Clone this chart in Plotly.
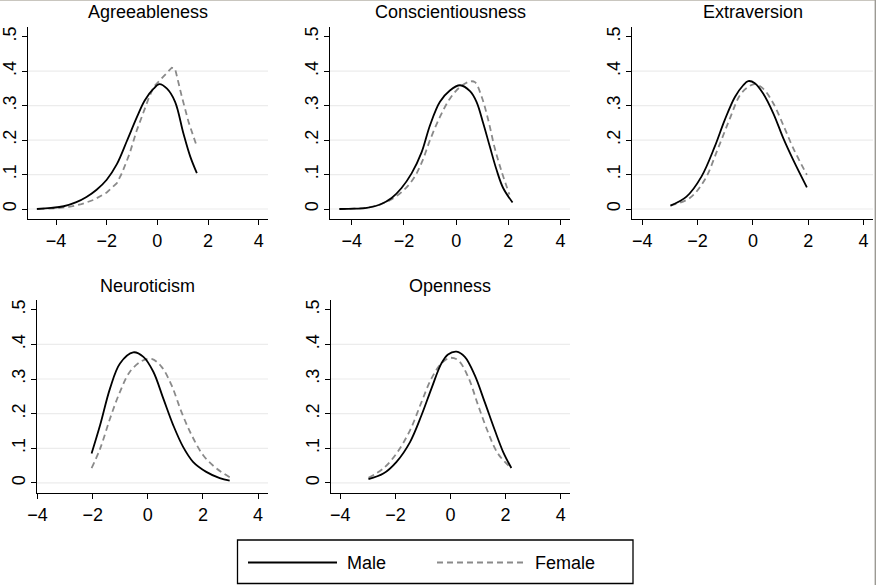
import plotly.graph_objects as go

W, H = 876, 585

# ---------------- data (kernel density estimates) ----------------
panel_titles = ["Agreeableness", "Conscientiousness", "Extraversion", "Neuroticism", "Openness"]
series_names = ["Male", "Female"]

agree_male_x = [-4.76, -4.2, -3.7, -3.2, -2.8, -2.4, -2.0, -1.6, -1.2, -0.8, -0.5, -0.15, 0.08, 0.38, 0.70, 1.03, 1.30, 1.56]
agree_male_y = [0.000, 0.003, 0.008, 0.020, 0.035, 0.056, 0.085, 0.130, 0.198, 0.268, 0.315, 0.349, 0.362, 0.349, 0.311, 0.219, 0.152, 0.104]
agree_female_x = [-4.7, -4.0, -3.5, -3.0, -2.5, -2.0, -1.6, -1.4, -1.1, -0.81, -0.35, -0.15, 0.57, 0.70, 0.97, 1.23, 1.56]
agree_female_y = [0.000, 0.002, 0.006, 0.014, 0.027, 0.048, 0.075, 0.104, 0.160, 0.229, 0.320, 0.354, 0.410, 0.407, 0.325, 0.253, 0.181]

consc_male_x = [-4.47, -3.9, -3.42, -2.91, -2.47, -2.09, -1.70, -1.32, -1.00, -0.62, -0.24, 0.15, 0.53, 0.78, 1.04, 1.29, 1.55, 1.80, 2.16]
consc_male_y = [0.000, 0.001, 0.003, 0.013, 0.032, 0.061, 0.104, 0.165, 0.243, 0.311, 0.344, 0.359, 0.342, 0.311, 0.248, 0.181, 0.113, 0.061, 0.019]
consc_female_x = [-4.47, -3.9, -3.5, -3.0, -2.5, -2.0, -1.6, -1.3, -1.00, -0.62, -0.24, 0.15, 0.53, 0.72, 0.98, 1.23, 1.48, 1.74, 2.04]
consc_female_y = [0.000, 0.001, 0.003, 0.011, 0.027, 0.055, 0.092, 0.138, 0.200, 0.267, 0.320, 0.354, 0.370, 0.368, 0.325, 0.258, 0.176, 0.109, 0.042]

extra_male_x = [-2.98, -2.40, -1.86, -1.38, -1.02, -0.65, -0.35, -0.17, 0.07, 0.37, 0.74, 1.10, 1.46, 1.95]
extra_male_y = [0.010, 0.036, 0.094, 0.181, 0.258, 0.325, 0.359, 0.371, 0.365, 0.335, 0.277, 0.205, 0.142, 0.063]
extra_female_x = [-2.98, -2.28, -1.74, -1.26, -0.83, -0.47, -0.17, 0.07, 0.37, 0.74, 1.10, 1.46, 1.95]
extra_female_y = [0.010, 0.032, 0.085, 0.176, 0.263, 0.330, 0.354, 0.362, 0.349, 0.306, 0.243, 0.176, 0.099]

neuro_male_x = [-2.04, -1.73, -1.37, -1.01, -0.53, -0.16, 0.20, 0.56, 0.92, 1.28, 1.64, 2.12, 2.61, 2.97]
neuro_male_y = [0.085, 0.167, 0.273, 0.345, 0.377, 0.364, 0.321, 0.244, 0.167, 0.104, 0.061, 0.032, 0.014, 0.007]
neuro_female_x = [-2.04, -1.73, -1.37, -1.01, -0.65, -0.22, 0.14, 0.50, 0.86, 1.22, 1.59, 2.01, 2.49, 3.04]
neuro_female_y = [0.043, 0.099, 0.186, 0.263, 0.321, 0.352, 0.358, 0.335, 0.282, 0.205, 0.138, 0.080, 0.042, 0.013]

open_male_x = [-2.98, -2.44, -1.96, -1.47, -1.05, -0.69, -0.33, -0.09, 0.22, 0.52, 0.88, 1.24, 1.61, 1.91, 2.21]
open_male_y = [0.011, 0.027, 0.061, 0.118, 0.196, 0.273, 0.345, 0.371, 0.379, 0.364, 0.311, 0.234, 0.152, 0.090, 0.043]
open_female_x = [-2.98, -2.44, -1.96, -1.47, -1.05, -0.69, -0.33, -0.03, 0.28, 0.64, 1.00, 1.36, 1.72, 2.21]
open_female_y = [0.015, 0.042, 0.085, 0.152, 0.234, 0.302, 0.345, 0.361, 0.354, 0.306, 0.225, 0.147, 0.085, 0.042]

x_tick_vals = [-4, -2, 0, 2, 4]
y_tick_vals = [0, 0.1, 0.2, 0.3, 0.4, 0.5]
y_tick_text = ["0", ".1", ".2", ".3", ".4", ".5"]
grid_vals = [0, 0.1, 0.2, 0.3, 0.4]

panel_data = [
    (agree_male_x, agree_male_y, agree_female_x, agree_female_y),
    (consc_male_x, consc_male_y, consc_female_x, consc_female_y),
    (extra_male_x, extra_male_y, extra_female_x, extra_female_y),
    (neuro_male_x, neuro_male_y, neuro_female_x, neuro_female_y),
    (open_male_x, open_male_y, open_female_x, open_female_y),
]

# ---------------- layout geometry (pixels) ----------------
# plot area boxes: (left, right, top, bottom)
boxes = [
    (28, 268, 27, 219),
    (330, 570, 27, 219),
    (632, 873, 27, 219),
    (37, 268, 300, 493),
    (331, 570, 300, 493),
]
x_ranges = [(-5.11, 4.37), (-4.83, 4.36), (-4.37, 4.34), (-4.02, 4.36), (-4.34, 4.34)]
y_range = (-0.029, 0.528)
title_pos = [(147.5, 12), (450, 12), (752.5, 12), (147.5, 286), (450.3, 286)]

FONT = "Liberation Sans, Arial, Helvetica, sans-serif"
MALE_COLOR = "#000000"
FEMALE_COLOR = "#8a8a8a"
GRID_COLOR = "#ececec"


def fx(px):
    return px / W


def fy(py):
    return 1 - py / H


fig = go.Figure()
layout_axes = {}
shapes = []
annotations = []

for i, (mx, my, fxs, fys) in enumerate(panel_data):
    n = i + 1
    xa = "x" if n == 1 else f"x{n}"
    ya = "y" if n == 1 else f"y{n}"
    female_shape = "linear" if i == 0 else "spline"
    fig.add_trace(go.Scatter(
        x=fxs, y=fys, xaxis=xa, yaxis=ya, mode="lines", name=series_names[1],
        line=dict(color=FEMALE_COLOR, width=1.8, dash="6px,4px", shape=female_shape, smoothing=1.0),
        showlegend=False, hoverinfo="skip"))
    fig.add_trace(go.Scatter(
        x=mx, y=my, xaxis=xa, yaxis=ya, mode="lines", name=series_names[0],
        line=dict(color=MALE_COLOR, width=1.8, shape="spline", smoothing=1.0),
        showlegend=False, hoverinfo="skip"))

    l, r, t, b = boxes[i]
    xkey = "xaxis" if n == 1 else f"xaxis{n}"
    ykey = "yaxis" if n == 1 else f"yaxis{n}"
    layout_axes[xkey] = dict(
        domain=[fx(l), fx(r)], range=list(x_ranges[i]), anchor=ya, automargin=False,
        tickmode="array", tickvals=x_tick_vals, ticks="outside", ticklen=5,
        tickcolor="#000", tickwidth=1, showline=True, linecolor="#000", linewidth=1.3,
        showgrid=False, zeroline=False, tickfont=dict(size=18, color="#000", family=FONT),
        fixedrange=True)
    layout_axes[ykey] = dict(
        domain=[fy(b), fy(t)], range=list(y_range), anchor=xa, automargin=False,
        tickmode="array", tickvals=y_tick_vals, ticktext=y_tick_text, tickangle=-90,
        ticklabelstandoff=-1,
        ticks="outside", ticklen=5, tickcolor="#000", tickwidth=1,
        showline=True, linecolor="#000", linewidth=1.3,
        showgrid=False, zeroline=False, tickfont=dict(size=18, color="#000", family=FONT),
        fixedrange=True)

    for g in grid_vals:
        shapes.append(dict(type="line", xref=f"{xa} domain", yref=ya, x0=0, x1=1, y0=g, y1=g,
                           line=dict(color=GRID_COLOR, width=1.2), layer="below"))

    tx, ty = title_pos[i]
    annotations.append(dict(text=panel_titles[i], x=fx(tx), y=fy(ty), xref="paper", yref="paper",
                            xanchor="center", yanchor="middle", showarrow=False,
                            font=dict(size=18, color="#000", family=FONT)))

# ---------------- legend (drawn box with samples) ----------------
shapes.append(dict(type="rect", xref="paper", yref="paper", x0=fx(237.5), x1=fx(633), y0=fy(583.5), y1=fy(540),
                   line=dict(color="#000", width=1.3), fillcolor="rgba(0,0,0,0)"))
shapes.append(dict(type="line", xref="paper", yref="paper", x0=fx(248), x1=fx(337), y0=fy(562.5), y1=fy(562.5),
                   line=dict(color=MALE_COLOR, width=1.8)))
shapes.append(dict(type="line", xref="paper", yref="paper", x0=fx(437), x1=fx(526), y0=fy(562.5), y1=fy(562.5),
                   line=dict(color=FEMALE_COLOR, width=1.8, dash="6px,4px")))
annotations.append(dict(text=series_names[0], x=fx(345), y=fy(562.5), xref="paper", yref="paper",
                        xanchor="left", yanchor="middle", showarrow=False,
                        font=dict(size=18, color="#000", family=FONT)))
annotations.append(dict(text=series_names[1], x=fx(532.5), y=fy(562.5), xref="paper", yref="paper",
                        xanchor="left", yanchor="middle", showarrow=False,
                        font=dict(size=18, color="#000", family=FONT)))

# faint outer frame at top and right edges of the picture
shapes.append(dict(type="line", xref="paper", yref="paper", x0=0, x1=1, y0=fy(0.5), y1=fy(0.5),
                   line=dict(color="#c9c6bf", width=1)))
shapes.append(dict(type="line", xref="paper", yref="paper", x0=fx(875.3), x1=fx(875.3), y0=0, y1=1,
                   line=dict(color="#9c9a94", width=1.4)))

fig.update_layout(
    width=W, height=H,
    margin=dict(l=0, r=0, t=0, b=0, autoexpand=False),
    paper_bgcolor="#ffffff", plot_bgcolor="#ffffff",
    showlegend=False,
    font=dict(family=FONT, size=18, color="#000"),
    shapes=shapes, annotations=annotations,
    **layout_axes,
)

fig.write_html("out.html", config={"displayModeBar": False, "staticPlot": True},
               post_script="document.body.style.margin='0';document.body.style.overflow='hidden';")
